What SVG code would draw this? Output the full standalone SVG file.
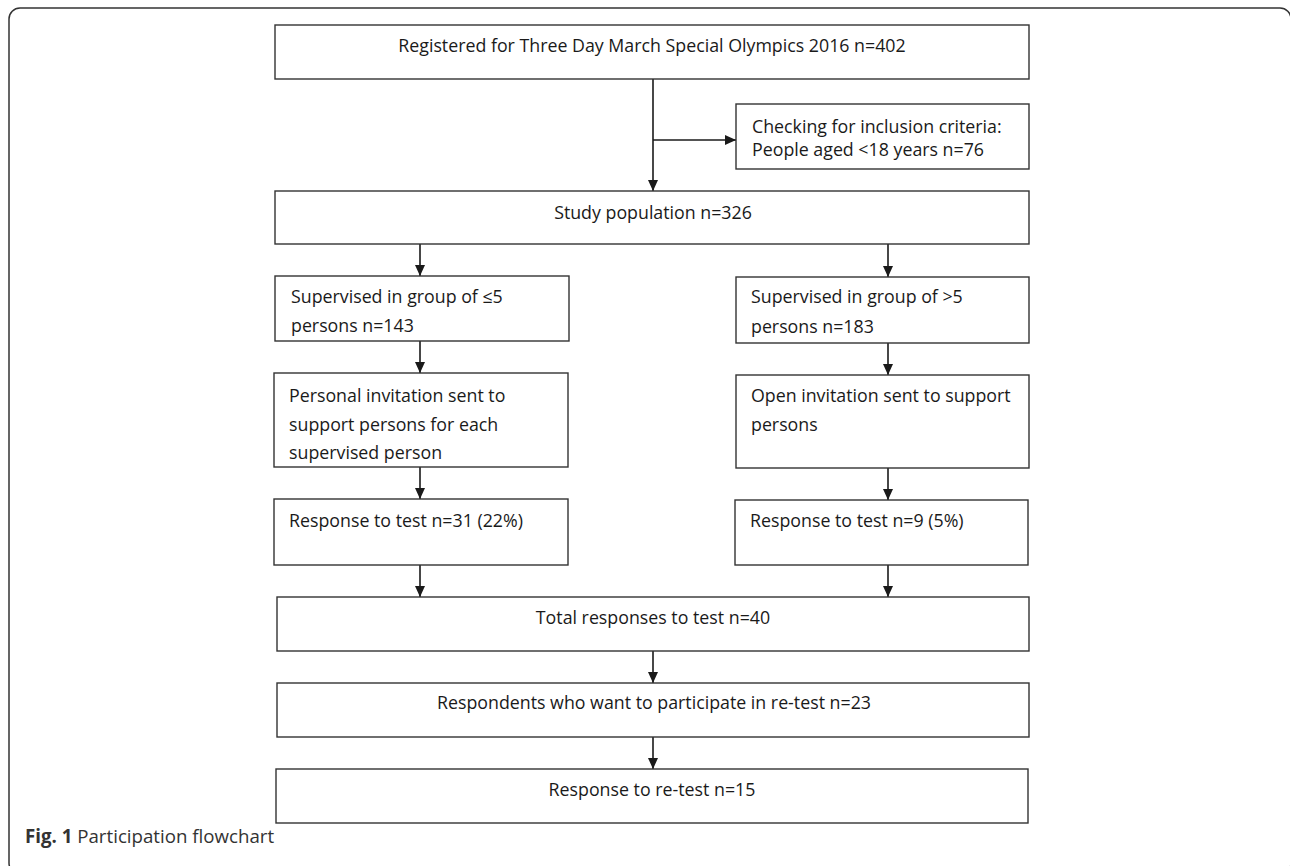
<svg xmlns="http://www.w3.org/2000/svg" width="1290" height="866" viewBox="0 0 1290 866">
<style>
.box{fill:#fff;stroke:#333;stroke-width:1.4}
.t{font-family:"Open Sans","Liberation Sans",sans-serif;font-size:17.8px;fill:#1a1a1a}
.c{text-anchor:middle}
.conn line{stroke:#1a1a1a;stroke-width:1.6}
.cap{font-family:"Open Sans","Liberation Sans",sans-serif;font-size:18.7px;fill:#333}
</style>
<defs>
<marker id="ah" markerUnits="userSpaceOnUse" markerWidth="12" markerHeight="12" refX="11" refY="5.5" orient="auto">
<path d="M0,0.5 L11,5.5 L0,10.5 z" fill="#1a1a1a"/>
</marker>
</defs>
<rect x="9" y="8" width="1282" height="866" rx="11" fill="#fff" stroke="#333" stroke-width="1.5"/>
<g class="conn">
<line x1="653" y1="79" x2="653" y2="191" marker-end="url(#ah)"/>
<line x1="653" y1="140" x2="736" y2="140" marker-end="url(#ah)"/>
<line x1="420" y1="244" x2="420" y2="276" marker-end="url(#ah)"/>
<line x1="888" y1="244" x2="888" y2="277" marker-end="url(#ah)"/>
<line x1="420" y1="341" x2="420" y2="373" marker-end="url(#ah)"/>
<line x1="888" y1="343" x2="888" y2="375" marker-end="url(#ah)"/>
<line x1="420" y1="467" x2="420" y2="499" marker-end="url(#ah)"/>
<line x1="888" y1="468" x2="888" y2="500" marker-end="url(#ah)"/>
<line x1="420" y1="565" x2="420" y2="597" marker-end="url(#ah)"/>
<line x1="888" y1="565" x2="888" y2="597" marker-end="url(#ah)"/>
<line x1="653" y1="651" x2="653" y2="683" marker-end="url(#ah)"/>
<line x1="653" y1="737" x2="653" y2="769" marker-end="url(#ah)"/>
</g>
<g id="registered">
<rect class="box" x="275" y="25" width="754" height="54"/>
<text class="t c" x="652" y="52">Registered for Three Day March Special Olympics 2016 n=402</text>
</g>
<g id="inclusion">
<rect class="box" x="736" y="104" width="293" height="65"/>
<text class="t" x="752" y="133">Checking for inclusion criteria:</text>
<text class="t" x="752" y="156">People aged &lt;18 years n=76</text>
</g>
<g id="study">
<rect class="box" x="275" y="191" width="754" height="53"/>
<text class="t c" x="653" y="219">Study population n=326</text>
</g>
<g id="sup-small">
<rect class="box" x="275" y="276" width="294" height="65"/>
<text class="t" x="291" y="303">Supervised in group of ≤5</text>
<text class="t" x="291" y="332">persons n=143</text>
</g>
<g id="sup-large">
<rect class="box" x="736" y="277" width="293" height="66"/>
<text class="t" x="751" y="303">Supervised in group of &gt;5</text>
<text class="t" x="751" y="333">persons n=183</text>
</g>
<g id="inv-personal">
<rect class="box" x="274" y="373" width="294" height="94"/>
<text class="t" x="289" y="402">Personal invitation sent to</text>
<text class="t" x="289" y="431">support persons for each</text>
<text class="t" x="289" y="459">supervised person</text>
</g>
<g id="inv-open">
<rect class="box" x="736" y="375" width="293" height="93"/>
<text class="t" x="751" y="402">Open invitation sent to support</text>
<text class="t" x="751" y="431">persons</text>
</g>
<g id="resp-small">
<rect class="box" x="274" y="499" width="294" height="66"/>
<text class="t" x="289" y="527">Response to test n=31 (22%)</text>
</g>
<g id="resp-large">
<rect class="box" x="735" y="500" width="293" height="65"/>
<text class="t" x="750" y="527">Response to test n=9 (5%)</text>
</g>
<g id="total">
<rect class="box" x="277" y="597" width="752" height="54"/>
<text class="t c" x="653" y="624">Total responses to test n=40</text>
</g>
<g id="respondents">
<rect class="box" x="277" y="683" width="752" height="54"/>
<text class="t c" x="654" y="709">Respondents who want to participate in re-test n=23</text>
</g>
<g id="retest">
<rect class="box" x="276" y="769" width="752" height="54"/>
<text class="t c" x="652" y="796">Response to re-test n=15</text>
</g>
<text class="cap" x="25" y="843"><tspan font-weight="bold">Fig. 1</tspan> Participation flowchart</text>
</svg>
